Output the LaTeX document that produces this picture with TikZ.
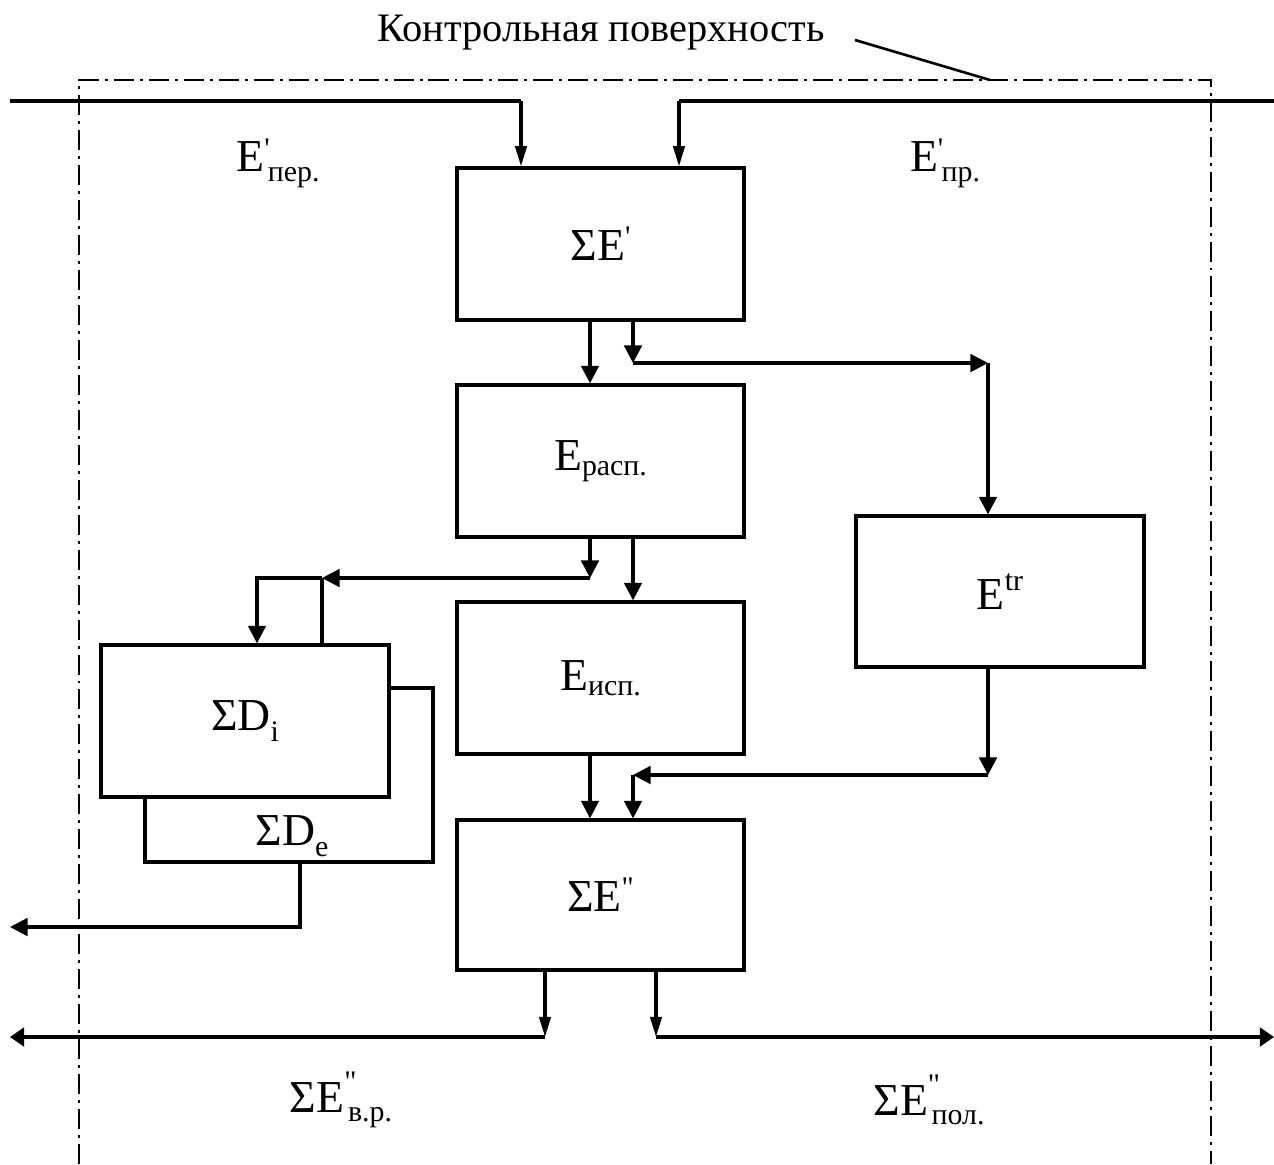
\documentclass[tikz,border=0pt]{standalone}
\usepackage{fontspec}
\setmainfont{Liberation Serif}
\usetikzlibrary{arrows.meta,positioning}
\newcommand{\lblfont}{\fontsize{26}{30}\selectfont}
\newcommand{\idxfont}{\fontsize{17}{19}\selectfont}
% letter with a mark above and an index below
\newcommand{\EE}[4]{#1\rlap{\raisebox{#2}{\idxfont #3}}\kern0.08em\raisebox{-0.2em}{\idxfont #4}}
\begin{document}
\begin{tikzpicture}[x=0.02cm,y=-0.02cm,
    blk/.style={draw,line width=1.9pt,fill=white,minimum width=5.74cm,
                minimum height=3.04cm,inner sep=0pt,font=\lblfont},
    wire/.style={line width=1.8pt},
    bus/.style={line width=2.5pt},
    arr/.style={wire,-{Triangle[length=10pt,width=10pt]}},
    arrn/.style={wire,-{Triangle[length=11.5pt,width=6.5pt]}},
    arre/.style={bus,-{Triangle[length=8pt,width=10.5pt]}},
    ctrl/.style={line width=1.2pt,dash pattern=on 11.4pt off 3.4pt on 1.7pt off 3.4pt},
    lbl/.style={font=\lblfont,inner sep=0pt}]
  \useasboundingbox (0,0) rectangle (1274,1164);

  % control surface
  \coordinate (ctl) at (79,80);
  \coordinate (ctr) at (1211,80);
  \coordinate (cbl) at (79,1164);
  \coordinate (cbr) at (1211,1164);
  \draw[ctrl] (cbl) -- (ctl) -- (ctr) -- (cbr);
  \node[font=\fontsize{23}{27}\selectfont,inner sep=0pt] (title) at (601,33)
    {Контрольная поверхность};
  \coordinate (lead) at (855,40);
  \coordinate (leadend) at (990,80);
  \draw[line width=1.5pt] (lead) -- (leadend);

  % blocks
  \node[blk] (sumin) at (600.5,244) {ΣE\raisebox{0.3em}{\idxfont\textquotesingle}};
  \node[blk] (rasp) at (600.5,461) {E\raisebox{-0.12em}{\idxfont расп.}};
  \node[blk] (isp) at (600.5,678) {E\raisebox{-0.12em}{\idxfont исп.}};
  \node[blk,minimum height=3cm] (sumout) at (600.5,895)
    {ΣE\raisebox{0.3em}{\idxfont\textquotedbl}};
  \node[blk,minimum width=5.76cm,minimum height=3.02cm] (tr) at (1000,591.5)
    {E\raisebox{0.4em}{\idxfont tr}};
  \node[blk,minimum width=5.76cm,minimum height=3.48cm] (de) at (289,775) {};
  \node[lbl] (delbl) at (292,836) {ΣD\raisebox{-0.25em}{\idxfont e}};
  \node[blk,minimum width=5.76cm] (di) at (245,721) {ΣD\raisebox{-0.25em}{\idxfont i}};

  % flow labels
  \node[lbl] (eper) at (278,163) {\EE{E}{0.3em}{\textquotesingle}{пер.}};
  \node[lbl] (epr) at (945,163) {\EE{E}{0.3em}{\textquotesingle}{пр.}};
  \node[lbl] (evr) at (341,1100) {\EE{ΣE}{0.45em}{\textquotedbl}{в.р.}};
  \node[lbl] (epol) at (929,1100) {\EE{ΣE}{0.45em}{\textquotedbl}{пол.}};

  % junction points
  \coordinate (inL) at (10,101);
  \coordinate (inR) at (1274,101);
  \coordinate (pa) at (521,101);
  \coordinate (pb) at (679,101);
  \coordinate (j1) at (633,363);
  \coordinate (j2) at (988,363);
  \coordinate (j3) at (590,578);
  \coordinate (j4) at (322,578);
  \coordinate (j5) at (257,578);
  \coordinate (j6) at (988,775);
  \coordinate (j7) at (633,775);
  \coordinate (j8) at (300,927);
  \coordinate (outD) at (10,927);
  \coordinate (j9) at (545,1037);
  \coordinate (j10) at (656,1037);
  \coordinate (outL) at (10,1037);
  \coordinate (outR) at (1274,1037);

  % inputs
  \draw[bus] (inL) -- (pa);
  \draw[arrn] (pa) -- (pa |- sumin.north);
  \draw[bus] (inR) -- (pb);
  \draw[arrn] (pb) -- (pb |- sumin.north);

  % inner flows
  \draw[arr] (sumin.south -| j3) -- (rasp.north -| j3);
  \draw[arr] (sumin.south -| j1) -- (j1);
  \draw[arr] (j1) -- (j2);
  \draw[arr] (j2) -- (tr.north -| j2);
  \draw[arr] (rasp.south -| j1) -- (isp.north -| j1);
  \draw[arr] (rasp.south -| j3) -- (j3);
  \draw[arr] (j3) -- (j4);
  \draw[wire] (j4) -- (di.north -| j4);
  \draw[arr] (j4) -- (j5) -- (di.north -| j5);
  \draw[arr] (isp.south -| j3) -- (sumout.north -| j3);
  \draw[arr] (tr.south -| j6) -- (j6);
  \draw[arr] (j6) -- (j7);
  \draw[arr] (j7) -- (sumout.north -| j7);
  \draw[arr] (de.south -| j8) -- (j8) -- (outD);

  % outputs
  \draw[arrn] (sumout.south -| j9) -- (j9);
  \draw[arre] (j9) -- (outL);
  \draw[arrn] (sumout.south -| j10) -- (j10);
  \draw[arre] (j10) -- (outR);
\end{tikzpicture}
\end{document}
